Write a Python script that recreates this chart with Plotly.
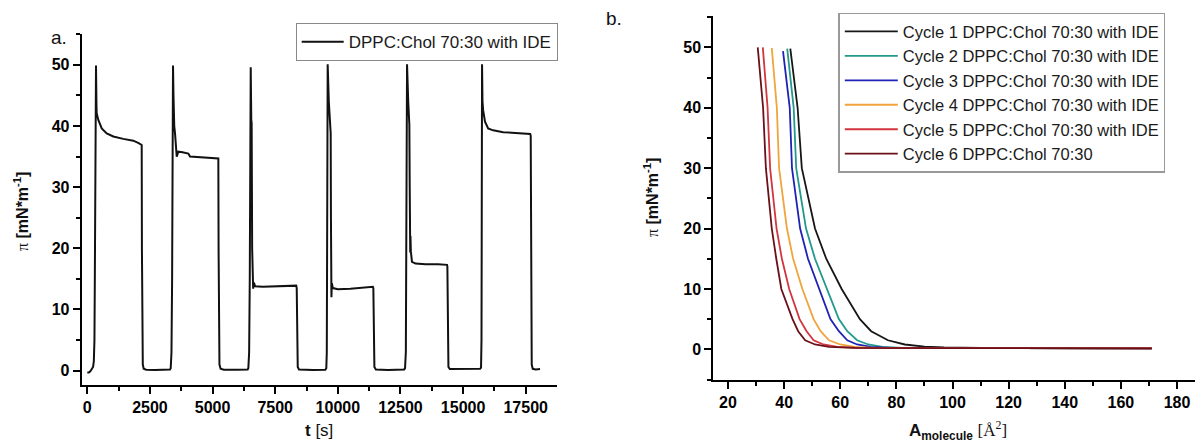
import plotly.graph_objects as go

W, H = 1195, 444

# ---------------- Panel a: surface pressure vs time ----------------
t_s = [0, 60, 120, 180, 230, 260, 285, 300, 320, 347, 365, 374, 439, 575, 774, 1038, 1437, 1836, 2050, 2150,
       2171, 2180, 2195, 2215, 2250, 2350, 2700, 3000, 3300, 3329, 3360, 3385, 3405, 3421,
       3440, 3470, 3501, 3569, 3600, 3633, 3800, 4032, 4100, 4500, 5000, 5230, 5240, 5255, 5275, 5320, 5450,
       6000, 6400, 6428, 6460, 6485, 6505, 6523,
       6545, 6560, 6580, 6600, 6620, 6650, 6700, 7000, 7500, 8000, 8340, 8359, 8368, 8380, 8400, 8450,
       9000, 9500, 9540, 9560, 9575, 9595,
       9640, 9715, 9725, 9735, 9745, 9760, 9800, 10000, 10500, 11000, 11400, 11418, 11428, 11440, 11460, 11520,
       12000, 12650, 12683, 12715, 12740, 12763,
       12810, 12855, 12870, 12880, 12890, 12900, 12915, 12960, 13100, 13500, 14000, 14360, 14373, 14383, 14395,
       14415, 14470,
       15000, 15680, 15717, 15735, 15745, 15757,
       15775, 15800, 15875, 16000, 16200, 16600, 17000, 17400, 17680, 17700, 17710, 17720, 17740, 17780, 17900,
       18072]
pi_t = [-0.3, -0.3, -0.1, 0.2, 0.6, 1.5, 5, 15, 35, 49.9, 43.5, 42.1, 41.0, 39.6, 38.8, 38.3, 37.9, 37.6, 37.2, 37.0,
        36.9, 20, 5, 1, 0.3, 0.15, 0.1, 0.15, 0.2, 0.4, 3, 15, 35, 49.9,
        45, 40, 38.8, 35.0, 35.5, 35.8, 35.7, 35.5, 35.0, 34.9, 34.8, 34.7, 20, 5, 1, 0.3, 0.15,
        0.15, 0.2, 0.4, 3, 15, 35, 49.6,
        41, 40.5, 20, 14.5, 13.4, 14.4, 13.8, 13.7, 13.8, 13.9, 13.9, 13.5, 8, 2, 0.6, 0.2,
        0.1, 0.15, 0.4, 3, 20, 50.1,
        44, 38.8, 25, 14, 12.0, 14.3, 13.5, 13.3, 13.4, 13.6, 13.7, 13.5, 8, 2, 0.6, 0.2,
        0.1, 0.2, 0.4, 3, 20, 50.1,
        44, 40.2, 30, 22.2, 19.3, 22.0, 19.5, 17.8, 17.5, 17.4, 17.4, 17.3, 17.0, 9, 2,
        0.6, 0.25,
        0.25, 0.3, 0.5, 5, 25, 50.1,
        44, 42.6, 40.7, 39.6, 39.3, 39.0, 38.9, 38.8, 38.7, 38.4, 20, 5, 1, 0.3, 0.2,
        0.25]
t_ticks = [0, 2500, 5000, 7500, 10000, 12500, 15000, 17500]
pi_ticks_a = [0, 10, 20, 30, 40, 50]

# ---------------- Panel b: isotherms ----------------
cycle_names = ["Cycle 1 DPPC:Chol 70:30 with IDE", "Cycle 2 DPPC:Chol 70:30 with IDE",
               "Cycle 3 DPPC:Chol 70:30 with IDE", "Cycle 4 DPPC:Chol 70:30 with IDE",
               "Cycle 5 DPPC:Chol 70:30 with IDE", "Cycle 6 DPPC:Chol 70:30"]
cycle_colors = ["#161616", "#21998b", "#1f22b3", "#f0a43c", "#d3353f", "#6a1019"]

c1_A = [42.2, 43.4, 44.8, 46.3, 51.0, 55.0, 60.5, 67.0, 71.0, 77.0, 83.0, 90.0, 97.0, 110.0, 130.0, 150.0, 171.0]
c1_pi = [49.8, 45.0, 40.0, 30.0, 20.0, 15.0, 10.0, 5.0, 3.0, 1.5, 0.8, 0.45, 0.3, 0.22, 0.2, 0.18, 0.15]
c2_A = [41.1, 42.2, 43.4, 44.3, 47.8, 51.0, 55.3, 59.5, 62.5, 66.0, 70.0, 75.0, 82.0, 100.0, 130.0, 150.0, 171.0]
c2_pi = [49.8, 45.0, 40.0, 30.0, 20.0, 15.0, 10.0, 5.0, 3.0, 1.5, 0.8, 0.4, 0.25, 0.2, 0.2, 0.18, 0.15]
c3_A = [39.6, 40.8, 42.0, 42.8, 45.7, 48.5, 52.5, 56.5, 59.5, 62.5, 66.0, 71.0, 78.0, 100.0, 130.0, 150.0, 171.0]
c3_pi = [49.4, 45.0, 40.0, 30.0, 20.0, 15.0, 10.0, 5.0, 3.0, 1.5, 0.8, 0.4, 0.25, 0.2, 0.2, 0.18, 0.15]
c4_A = [35.6, 36.5, 37.4, 38.2, 41.0, 43.2, 46.5, 50.5, 53.0, 56.0, 60.0, 65.0, 72.0, 100.0, 130.0, 150.0, 171.0]
c4_pi = [49.9, 45.0, 40.0, 30.0, 20.0, 15.0, 10.0, 5.0, 3.0, 1.5, 0.8, 0.4, 0.25, 0.2, 0.2, 0.18, 0.15]
c5_A = [32.4, 33.2, 34.1, 35.0, 37.3, 39.2, 41.8, 45.5, 48.0, 50.5, 54.0, 59.0, 67.0, 100.0, 130.0, 150.0, 171.0]
c5_pi = [50.0, 45.0, 40.0, 30.0, 20.0, 15.0, 10.0, 5.0, 3.0, 1.5, 0.8, 0.4, 0.25, 0.2, 0.2, 0.18, 0.15]
c6_A = [30.6, 31.5, 32.5, 33.5, 35.6, 37.2, 39.0, 43.0, 45.0, 47.5, 51.0, 56.0, 65.0, 100.0, 130.0, 150.0, 171.0]
c6_pi = [50.0, 45.0, 40.0, 30.0, 20.0, 15.0, 10.0, 5.0, 3.0, 1.5, 0.8, 0.4, 0.25, 0.2, 0.2, 0.18, 0.15]
cycles_A = [c1_A, c2_A, c3_A, c4_A, c5_A, c6_A]
cycles_pi = [c1_pi, c2_pi, c3_pi, c4_pi, c5_pi, c6_pi]
A_ticks = [20, 40, 60, 80, 100, 120, 140, 160, 180]
pi_ticks_b = [0, 10, 20, 30, 40, 50]

SANS = "Liberation Sans, Arial, sans-serif"

fig = go.Figure()
fig.add_trace(go.Scatter(x=t_s, y=pi_t, mode="lines", name="DPPC:Chol 70:30 with IDE",
                         line=dict(color="#111111", width=2), xaxis="x", yaxis="y", legend="legend"))
for A, p, n, c in zip(cycles_A, cycles_pi, cycle_names, cycle_colors):
    fig.add_trace(go.Scatter(x=A, y=p, mode="lines", name=n, line=dict(color=c, width=1.8),
                             xaxis="x2", yaxis="y2", legend="legend2"))


def ax(domain, rng, ticks, mdtick, anchor):
    return dict(domain=domain, range=rng, tickmode="array", tickvals=ticks,
                ticktext=["<b>%d</b>" % v for v in ticks], anchor=anchor,
                showline=True, linecolor="black", linewidth=2, mirror=False,
                ticks="outside", ticklen=7, tickwidth=1.5, tickcolor="black",
                minor=dict(ticks="outside", ticklen=4, tickwidth=1.5, tickcolor="black", dtick=mdtick, tick0=0),
                showgrid=False, zeroline=False,
                tickfont=dict(family=SANS, size=16, color="#000000", weight=700))


def px(x):
    return x / W


def py(y):
    return 1 - y / H


fig.update_layout(
    width=W, height=H, margin=dict(l=0, r=0, t=0, b=0),
    paper_bgcolor="white", plot_bgcolor="white",
    xaxis=ax([px(81.7), px(556.7)], [-224, 18737], t_ticks, 1250, "y"),
    yaxis=ax([py(385), py(33.7)], [-2.35, 55.1], pi_ticks_a, 5, "x"),
    xaxis2=ax([px(713.3), 1.0], [14.76, 186.4], A_ticks, 10, "y2"),
    yaxis2=ax([py(380), py(16)], [-5.08, 55.2], pi_ticks_b, 5, "x2"),
    legend=dict(x=px(295.7), y=py(23.3), xanchor="left", yanchor="top", itemwidth=42,
                bordercolor="#888888", borderwidth=1, bgcolor="white",
                font=dict(family=SANS, size=17, color="#1a1a1a")),
    legend2=dict(x=px(838.3), y=py(12.7), xanchor="left", yanchor="top", itemwidth=53,
                 bordercolor="#999999", borderwidth=1.5, bgcolor="white",
                 font=dict(family=SANS, size=16.5, color="#1a1a1a"), tracegroupgap=0),
    showlegend=True,
)

ann = [
    dict(text="a.", x=px(59), y=py(37), font=dict(family=SANS, size=19, color="#111")),
    dict(text="b.", x=px(614), y=py(18.5), font=dict(family=SANS, size=19, color="#111")),
    dict(text="<b>t</b> [s]", x=px(319), y=py(430), font=dict(family=SANS, size=17, color="#111")),
    dict(text='<span style="font-family:Liberation Serif">π</span> <b>[mN*m<sup>-1</sup>]</b>',
         x=px(21), y=py(212), textangle=-90, font=dict(family=SANS, size=16, color="#111")),
    dict(text='<span style="font-family:Liberation Serif">π</span> <b>[mN*m<sup>-1</sup>]</b>',
         x=px(651), y=py(198), textangle=-90, font=dict(family=SANS, size=16, color="#111")),
    dict(text='<b>A<sub>molecule</sub></b> <span style="font-family:Liberation Serif">[Å<sup>2</sup>]</span>',
         x=px(958), y=py(430), font=dict(family=SANS, size=17, color="#111")),
]
for a in ann:
    a.update(xref="paper", yref="paper", showarrow=False, xanchor="center", yanchor="middle")
fig.update_layout(annotations=ann)

fig.write_html("out.html")
